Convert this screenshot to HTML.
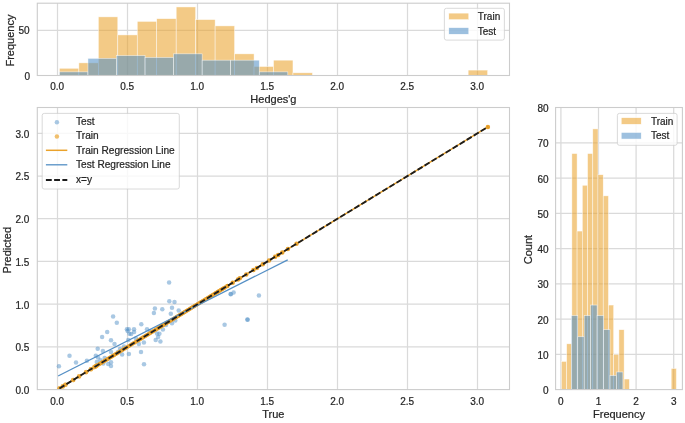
<!DOCTYPE html>
<html lang="en"><head><meta charset="utf-8"><title>Predicted vs True</title>
<style>html,body{margin:0;padding:0;background:#fff}svg{display:block}</style></head>
<body>
<svg width="685" height="423" viewBox="0 0 685 423" font-family="'Liberation Sans', sans-serif" fill="#262626" stroke="#262626" stroke-width="0.22">
<rect width="685" height="423" fill="#fff" stroke="none"/>
<rect x="37.3" y="3.2" width="472.2" height="72.3" fill="#fff" stroke="none"/>
<path d="M57.5 3.2V75.5M127.5 3.2V75.5M197.5 3.2V75.5M267.5 3.2V75.5M337.5 3.2V75.5M407.5 3.2V75.5M477.5 3.2V75.5M37.3 30.4H509.5" stroke="#dadada" stroke-width="1.25" fill="none"/>
<g>
<rect x="59.4" y="68.28" width="19.46" height="7.22" fill="#eaa22b" fill-opacity="0.57" stroke="#fff" stroke-opacity="0.75" stroke-width="0.6"/>
<rect x="78.86" y="62.87" width="19.47" height="12.63" fill="#eaa22b" fill-opacity="0.57" stroke="#fff" stroke-opacity="0.75" stroke-width="0.6"/>
<rect x="98.33" y="16.87" width="19.46" height="58.63" fill="#eaa22b" fill-opacity="0.57" stroke="#fff" stroke-opacity="0.75" stroke-width="0.6"/>
<rect x="117.79" y="34.91" width="19.47" height="40.59" fill="#eaa22b" fill-opacity="0.57" stroke="#fff" stroke-opacity="0.75" stroke-width="0.6"/>
<rect x="137.26" y="21.38" width="19.47" height="54.12" fill="#eaa22b" fill-opacity="0.57" stroke="#fff" stroke-opacity="0.75" stroke-width="0.6"/>
<rect x="156.72" y="18.67" width="19.47" height="56.83" fill="#eaa22b" fill-opacity="0.57" stroke="#fff" stroke-opacity="0.75" stroke-width="0.6"/>
<rect x="176.19" y="6.95" width="19.47" height="68.55" fill="#eaa22b" fill-opacity="0.57" stroke="#fff" stroke-opacity="0.75" stroke-width="0.6"/>
<rect x="195.66" y="19.58" width="19.47" height="55.92" fill="#eaa22b" fill-opacity="0.57" stroke="#fff" stroke-opacity="0.75" stroke-width="0.6"/>
<rect x="215.12" y="25.89" width="19.47" height="49.61" fill="#eaa22b" fill-opacity="0.57" stroke="#fff" stroke-opacity="0.75" stroke-width="0.6"/>
<rect x="234.59" y="53.85" width="19.47" height="21.65" fill="#eaa22b" fill-opacity="0.57" stroke="#fff" stroke-opacity="0.75" stroke-width="0.6"/>
<rect x="254.05" y="66.48" width="19.46" height="9.02" fill="#eaa22b" fill-opacity="0.57" stroke="#fff" stroke-opacity="0.75" stroke-width="0.6"/>
<rect x="273.51" y="60.17" width="19.46" height="15.33" fill="#eaa22b" fill-opacity="0.57" stroke="#fff" stroke-opacity="0.75" stroke-width="0.6"/>
<rect x="292.98" y="72.79" width="19.47" height="2.71" fill="#eaa22b" fill-opacity="0.57" stroke="#fff" stroke-opacity="0.75" stroke-width="0.6"/>
<rect x="468.16" y="70.09" width="19.47" height="5.41" fill="#eaa22b" fill-opacity="0.57" stroke="#fff" stroke-opacity="0.75" stroke-width="0.6"/>
<rect x="59.4" y="71.89" width="28.55" height="3.61" fill="#5391c7" fill-opacity="0.57" stroke="#fff" stroke-opacity="0.75" stroke-width="0.6"/>
<rect x="87.95" y="58.36" width="28.55" height="17.14" fill="#5391c7" fill-opacity="0.57" stroke="#fff" stroke-opacity="0.75" stroke-width="0.6"/>
<rect x="116.5" y="55.66" width="28.55" height="19.84" fill="#5391c7" fill-opacity="0.57" stroke="#fff" stroke-opacity="0.75" stroke-width="0.6"/>
<rect x="145.05" y="57.46" width="28.55" height="18.04" fill="#5391c7" fill-opacity="0.57" stroke="#fff" stroke-opacity="0.75" stroke-width="0.6"/>
<rect x="173.6" y="53.85" width="28.55" height="21.65" fill="#5391c7" fill-opacity="0.57" stroke="#fff" stroke-opacity="0.75" stroke-width="0.6"/>
<rect x="202.15" y="60.17" width="28.55" height="15.33" fill="#5391c7" fill-opacity="0.57" stroke="#fff" stroke-opacity="0.75" stroke-width="0.6"/>
<rect x="230.7" y="60.17" width="28.55" height="15.33" fill="#5391c7" fill-opacity="0.57" stroke="#fff" stroke-opacity="0.75" stroke-width="0.6"/>
<rect x="259.25" y="71.89" width="28.55" height="3.61" fill="#5391c7" fill-opacity="0.57" stroke="#fff" stroke-opacity="0.75" stroke-width="0.6"/>
</g>
<rect x="37.3" y="3.2" width="472.2" height="72.3" fill="none" stroke="#cccccc" stroke-width="1.1"/>
<text x="57.2" y="90.35" font-size="10" text-anchor="middle">0.0</text>
<text x="127.2" y="90.35" font-size="10" text-anchor="middle">0.5</text>
<text x="197.2" y="90.35" font-size="10" text-anchor="middle">1.0</text>
<text x="267.2" y="90.35" font-size="10" text-anchor="middle">1.5</text>
<text x="337.2" y="90.35" font-size="10" text-anchor="middle">2.0</text>
<text x="407.2" y="90.35" font-size="10" text-anchor="middle">2.5</text>
<text x="477.2" y="90.35" font-size="10" text-anchor="middle">3.0</text>
<text x="30" y="79.6" font-size="10" text-anchor="end">0</text>
<text x="29.6" y="34" font-size="10" text-anchor="end">50</text>
<text x="14" y="40.6" font-size="11" text-anchor="middle" transform="rotate(-90 14 40.6)">Frequency</text>
<text x="273.4" y="103.3" font-size="11" text-anchor="middle">Hedges'g</text>
<rect x="444.4" y="8.3" width="60" height="31.8" rx="2" ry="2" fill="#fff" fill-opacity="0.8" stroke="#cccccc" stroke-opacity="0.8" stroke-width="0.9"/>
<rect x="448.8" y="13.1" width="20" height="6.6" fill="#eaa22b" fill-opacity="0.57" stroke="#fff" stroke-width="0.5"/>
<text x="477.8" y="20" font-size="10" text-anchor="start">Train</text>
<rect x="448.8" y="27.65" width="20" height="6.6" fill="#5391c7" fill-opacity="0.57" stroke="#fff" stroke-width="0.5"/>
<text x="477.8" y="34.55" font-size="10" text-anchor="start">Test</text>
<rect x="37.3" y="107.5" width="472.2" height="282.1" fill="#fff" stroke="none"/>
<path d="M57.5 107.5V389.6M127.5 107.5V389.6M197.5 107.5V389.6M267.5 107.5V389.6M337.5 107.5V389.6M407.5 107.5V389.6M477.5 107.5V389.6M37.3 346.88H509.5M37.3 304.17H509.5M37.3 261.46H509.5M37.3 218.74H509.5M37.3 176.03H509.5M37.3 133.31H509.5" stroke="#dadada" stroke-width="1.25" fill="none"/>
<clipPath id="mainclip"><rect x="37.3" y="107.5" width="472.2" height="282.1"/></clipPath>
<g clip-path="url(#mainclip)">
<g fill="#5391c7" fill-opacity="0.5" stroke="none">
<circle cx="58.9" cy="366.2" r="2.25"/>
<circle cx="69.5" cy="355.7" r="2.25"/>
<circle cx="76" cy="362.5" r="2.25"/>
<circle cx="86.9" cy="360.8" r="2.25"/>
<circle cx="97.7" cy="348.8" r="2.25"/>
<circle cx="95.8" cy="355.7" r="2.25"/>
<circle cx="98" cy="357.6" r="2.25"/>
<circle cx="96.8" cy="361.9" r="2.25"/>
<circle cx="102.9" cy="351.1" r="2.25"/>
<circle cx="104.7" cy="358" r="2.25"/>
<circle cx="103.2" cy="363.6" r="2.25"/>
<circle cx="111" cy="351.9" r="2.25"/>
<circle cx="111" cy="340.2" r="2.25"/>
<circle cx="114.5" cy="344" r="2.25"/>
<circle cx="108.2" cy="364" r="2.25"/>
<circle cx="111" cy="366" r="2.25"/>
<circle cx="111" cy="362.2" r="2.25"/>
<circle cx="122.1" cy="354.5" r="2.25"/>
<circle cx="128.9" cy="354" r="2.25"/>
<circle cx="128.3" cy="340" r="2.25"/>
<circle cx="113.1" cy="316.6" r="2.25"/>
<circle cx="116.8" cy="322.7" r="2.25"/>
<circle cx="107.2" cy="331.9" r="2.25"/>
<circle cx="102.1" cy="337" r="2.25"/>
<circle cx="126.9" cy="329.3" r="2.25"/>
<circle cx="127.6" cy="330.9" r="2.25"/>
<circle cx="128.8" cy="329.3" r="2.25"/>
<circle cx="129.4" cy="333.7" r="2.25"/>
<circle cx="141" cy="352" r="2.25"/>
<circle cx="144" cy="364.2" r="2.25"/>
<circle cx="138.9" cy="344" r="2.25"/>
<circle cx="143.9" cy="342.4" r="2.25"/>
<circle cx="155.7" cy="340" r="2.25"/>
<circle cx="160.4" cy="341.6" r="2.25"/>
<circle cx="158.1" cy="337" r="2.25"/>
<circle cx="159.4" cy="333.8" r="2.25"/>
<circle cx="157" cy="333.5" r="2.25"/>
<circle cx="162.9" cy="329.5" r="2.25"/>
<circle cx="131.2" cy="334" r="2.25"/>
<circle cx="134.1" cy="331.9" r="2.25"/>
<circle cx="134" cy="329.3" r="2.25"/>
<circle cx="169.1" cy="282.4" r="2.25"/>
<circle cx="169.3" cy="301.2" r="2.25"/>
<circle cx="174.5" cy="301.9" r="2.25"/>
<circle cx="154.9" cy="308.4" r="2.25"/>
<circle cx="162.3" cy="309.2" r="2.25"/>
<circle cx="172" cy="307.7" r="2.25"/>
<circle cx="178.7" cy="310.4" r="2.25"/>
<circle cx="153.9" cy="313" r="2.25"/>
<circle cx="170.8" cy="313.7" r="2.25"/>
<circle cx="141.3" cy="324.3" r="2.25"/>
<circle cx="147" cy="329.2" r="2.25"/>
<circle cx="172" cy="323.2" r="2.25"/>
<circle cx="175.3" cy="320.5" r="2.25"/>
<circle cx="230.8" cy="294.2" r="2.25"/>
<circle cx="230.6" cy="294" r="2.25"/>
<circle cx="233.6" cy="292.5" r="2.25"/>
<circle cx="258.9" cy="295.4" r="2.25"/>
<circle cx="247.4" cy="319.5" r="2.25"/>
<circle cx="247.6" cy="319.7" r="2.25"/>
<circle cx="224.6" cy="324.7" r="2.25"/>
<circle cx="124" cy="346.5" r="2.25"/>
<circle cx="120" cy="349" r="2.25"/>
<circle cx="136" cy="338.5" r="2.25"/>
<circle cx="150" cy="331" r="2.25"/>
<circle cx="166" cy="325" r="2.25"/>
<circle cx="118" cy="352" r="2.25"/>
<circle cx="100.5" cy="360.2" r="2.25"/>
</g>
<g fill="#eaa22b" stroke="none">
<circle cx="59.4" cy="388.44" r="2.25" fill-opacity="0.68"/>
<circle cx="59.7" cy="388.26" r="2.25" fill-opacity="0.68"/>
<circle cx="62.7" cy="386.43" r="2.25" fill-opacity="0.68"/>
<circle cx="62.9" cy="386.3" r="2.25" fill-opacity="0.68"/>
<circle cx="65.3" cy="384.84" r="2.25" fill-opacity="0.68"/>
<circle cx="65.5" cy="384.72" r="2.25" fill-opacity="0.68"/>
<circle cx="73.1" cy="380.08" r="2.25" fill-opacity="0.68"/>
<circle cx="73.3" cy="379.96" r="2.25" fill-opacity="0.68"/>
<circle cx="79" cy="376.48" r="2.25" fill-opacity="0.68"/>
<circle cx="79.2" cy="376.36" r="2.25" fill-opacity="0.68"/>
<circle cx="86" cy="372.21" r="2.25" fill-opacity="0.68"/>
<circle cx="86.2" cy="372.09" r="2.25" fill-opacity="0.68"/>
<circle cx="90.8" cy="369.28" r="2.25" fill-opacity="0.68"/>
<circle cx="91" cy="369.16" r="2.25" fill-opacity="0.68"/>
<circle cx="94" cy="367.33" r="2.25" fill-opacity="0.68"/>
<circle cx="95" cy="366.72" r="2.25" fill-opacity="0.68"/>
<circle cx="95.5" cy="366.41" r="2.25" fill-opacity="0.68"/>
<circle cx="96" cy="366.11" r="2.25" fill-opacity="0.68"/>
<circle cx="96.5" cy="365.8" r="2.25" fill-opacity="0.68"/>
<circle cx="97" cy="365.5" r="1.9" fill-opacity="0.45"/>
<circle cx="97.5" cy="365.19" r="1.9" fill-opacity="0.45"/>
<circle cx="98" cy="364.89" r="1.9" fill-opacity="0.45"/>
<circle cx="98.48" cy="364.59" r="1.9" fill-opacity="0.45"/>
<circle cx="98.78" cy="364.41" r="1.9" fill-opacity="0.45"/>
<circle cx="99.08" cy="364.23" r="1.9" fill-opacity="0.45"/>
<circle cx="99.38" cy="364.04" r="1.9" fill-opacity="0.45"/>
<circle cx="99.68" cy="363.86" r="1.9" fill-opacity="0.45"/>
<circle cx="99.98" cy="363.68" r="1.9" fill-opacity="0.45"/>
<circle cx="100.28" cy="363.5" r="1.9" fill-opacity="0.45"/>
<circle cx="100.58" cy="363.31" r="1.9" fill-opacity="0.45"/>
<circle cx="100.88" cy="363.13" r="1.9" fill-opacity="0.45"/>
<circle cx="101.17" cy="362.95" r="1.9" fill-opacity="0.45"/>
<circle cx="101.47" cy="362.77" r="1.9" fill-opacity="0.45"/>
<circle cx="101.77" cy="362.59" r="1.9" fill-opacity="0.45"/>
<circle cx="102.07" cy="362.4" r="1.9" fill-opacity="0.45"/>
<circle cx="102.37" cy="362.22" r="1.9" fill-opacity="0.45"/>
<circle cx="102.67" cy="362.04" r="1.9" fill-opacity="0.45"/>
<circle cx="102.97" cy="361.85" r="1.9" fill-opacity="0.45"/>
<circle cx="103.27" cy="361.67" r="1.9" fill-opacity="0.45"/>
<circle cx="103.57" cy="361.49" r="1.9" fill-opacity="0.45"/>
<circle cx="103.87" cy="361.3" r="1.9" fill-opacity="0.45"/>
<circle cx="104.17" cy="361.12" r="1.9" fill-opacity="0.45"/>
<circle cx="104.47" cy="360.94" r="1.9" fill-opacity="0.45"/>
<circle cx="104.77" cy="360.76" r="1.9" fill-opacity="0.45"/>
<circle cx="105.07" cy="360.57" r="1.9" fill-opacity="0.45"/>
<circle cx="105.37" cy="360.39" r="1.9" fill-opacity="0.45"/>
<circle cx="105.67" cy="360.21" r="1.9" fill-opacity="0.45"/>
<circle cx="105.97" cy="360.02" r="1.9" fill-opacity="0.45"/>
<circle cx="106.27" cy="359.84" r="1.9" fill-opacity="0.45"/>
<circle cx="106.57" cy="359.66" r="1.9" fill-opacity="0.45"/>
<circle cx="106.86" cy="359.48" r="1.9" fill-opacity="0.45"/>
<circle cx="107.16" cy="359.3" r="1.9" fill-opacity="0.45"/>
<circle cx="107.46" cy="359.11" r="1.9" fill-opacity="0.45"/>
<circle cx="107.76" cy="358.93" r="1.9" fill-opacity="0.45"/>
<circle cx="108.06" cy="358.75" r="1.9" fill-opacity="0.45"/>
<circle cx="108.36" cy="358.56" r="1.9" fill-opacity="0.45"/>
<circle cx="108.66" cy="358.38" r="1.9" fill-opacity="0.45"/>
<circle cx="108.96" cy="358.2" r="1.9" fill-opacity="0.45"/>
<circle cx="109.26" cy="358.02" r="1.9" fill-opacity="0.45"/>
<circle cx="109.56" cy="357.83" r="1.9" fill-opacity="0.45"/>
<circle cx="109.86" cy="357.65" r="1.9" fill-opacity="0.45"/>
<circle cx="110.16" cy="357.47" r="1.9" fill-opacity="0.45"/>
<circle cx="110.46" cy="357.28" r="1.9" fill-opacity="0.45"/>
<circle cx="110.76" cy="357.1" r="1.9" fill-opacity="0.45"/>
<circle cx="111.06" cy="356.92" r="1.9" fill-opacity="0.45"/>
<circle cx="111.36" cy="356.73" r="1.9" fill-opacity="0.45"/>
<circle cx="111.66" cy="356.55" r="1.9" fill-opacity="0.45"/>
<circle cx="111.96" cy="356.37" r="1.9" fill-opacity="0.45"/>
<circle cx="112.25" cy="356.19" r="1.9" fill-opacity="0.45"/>
<circle cx="112.55" cy="356.01" r="1.9" fill-opacity="0.45"/>
<circle cx="112.85" cy="355.82" r="1.9" fill-opacity="0.45"/>
<circle cx="113.15" cy="355.64" r="1.9" fill-opacity="0.45"/>
<circle cx="113.45" cy="355.46" r="1.9" fill-opacity="0.45"/>
<circle cx="113.75" cy="355.28" r="1.9" fill-opacity="0.45"/>
<circle cx="114.05" cy="355.09" r="1.9" fill-opacity="0.45"/>
<circle cx="114.35" cy="354.91" r="1.9" fill-opacity="0.45"/>
<circle cx="114.65" cy="354.73" r="1.9" fill-opacity="0.45"/>
<circle cx="114.95" cy="354.54" r="1.9" fill-opacity="0.45"/>
<circle cx="115.25" cy="354.36" r="1.9" fill-opacity="0.45"/>
<circle cx="115.55" cy="354.18" r="1.9" fill-opacity="0.45"/>
<circle cx="115.85" cy="353.99" r="1.9" fill-opacity="0.45"/>
<circle cx="116.15" cy="353.81" r="1.9" fill-opacity="0.45"/>
<circle cx="116.45" cy="353.63" r="1.9" fill-opacity="0.45"/>
<circle cx="116.75" cy="353.44" r="1.9" fill-opacity="0.45"/>
<circle cx="117.05" cy="353.26" r="1.9" fill-opacity="0.45"/>
<circle cx="117.35" cy="353.08" r="1.9" fill-opacity="0.45"/>
<circle cx="117.65" cy="352.9" r="1.9" fill-opacity="0.45"/>
<circle cx="118.01" cy="352.68" r="1.9" fill-opacity="0.45"/>
<circle cx="118.44" cy="352.41" r="1.9" fill-opacity="0.45"/>
<circle cx="118.88" cy="352.15" r="1.9" fill-opacity="0.45"/>
<circle cx="119.31" cy="351.88" r="1.9" fill-opacity="0.45"/>
<circle cx="119.74" cy="351.62" r="1.9" fill-opacity="0.45"/>
<circle cx="120.17" cy="351.36" r="1.9" fill-opacity="0.45"/>
<circle cx="120.61" cy="351.09" r="1.9" fill-opacity="0.45"/>
<circle cx="121.04" cy="350.83" r="1.9" fill-opacity="0.45"/>
<circle cx="121.47" cy="350.56" r="1.9" fill-opacity="0.45"/>
<circle cx="121.9" cy="350.3" r="1.9" fill-opacity="0.45"/>
<circle cx="122.34" cy="350.03" r="1.9" fill-opacity="0.45"/>
<circle cx="122.77" cy="349.77" r="1.9" fill-opacity="0.45"/>
<circle cx="123.2" cy="349.51" r="1.9" fill-opacity="0.45"/>
<circle cx="123.63" cy="349.25" r="1.9" fill-opacity="0.45"/>
<circle cx="124.07" cy="348.98" r="1.9" fill-opacity="0.45"/>
<circle cx="124.5" cy="348.72" r="1.9" fill-opacity="0.45"/>
<circle cx="124.93" cy="348.45" r="1.9" fill-opacity="0.45"/>
<circle cx="125.36" cy="348.19" r="1.9" fill-opacity="0.45"/>
<circle cx="125.8" cy="347.92" r="1.9" fill-opacity="0.45"/>
<circle cx="126.23" cy="347.66" r="1.9" fill-opacity="0.45"/>
<circle cx="126.66" cy="347.4" r="1.9" fill-opacity="0.45"/>
<circle cx="127.09" cy="347.14" r="1.9" fill-opacity="0.45"/>
<circle cx="127.53" cy="346.87" r="1.9" fill-opacity="0.45"/>
<circle cx="127.96" cy="346.6" r="1.9" fill-opacity="0.45"/>
<circle cx="128.39" cy="346.34" r="1.9" fill-opacity="0.45"/>
<circle cx="128.83" cy="346.07" r="1.9" fill-opacity="0.45"/>
<circle cx="129.26" cy="345.81" r="1.9" fill-opacity="0.45"/>
<circle cx="129.69" cy="345.55" r="1.9" fill-opacity="0.45"/>
<circle cx="130.12" cy="345.29" r="1.9" fill-opacity="0.45"/>
<circle cx="130.56" cy="345.02" r="1.9" fill-opacity="0.45"/>
<circle cx="130.99" cy="344.76" r="1.9" fill-opacity="0.45"/>
<circle cx="131.42" cy="344.49" r="1.9" fill-opacity="0.45"/>
<circle cx="131.85" cy="344.23" r="1.9" fill-opacity="0.45"/>
<circle cx="132.29" cy="343.96" r="1.9" fill-opacity="0.45"/>
<circle cx="132.72" cy="343.7" r="1.9" fill-opacity="0.45"/>
<circle cx="133.15" cy="343.44" r="1.9" fill-opacity="0.45"/>
<circle cx="133.58" cy="343.17" r="1.9" fill-opacity="0.45"/>
<circle cx="134.02" cy="342.91" r="1.9" fill-opacity="0.45"/>
<circle cx="134.45" cy="342.64" r="1.9" fill-opacity="0.45"/>
<circle cx="134.88" cy="342.38" r="1.9" fill-opacity="0.45"/>
<circle cx="135.31" cy="342.12" r="1.9" fill-opacity="0.45"/>
<circle cx="135.75" cy="341.85" r="1.9" fill-opacity="0.45"/>
<circle cx="136.18" cy="341.59" r="1.9" fill-opacity="0.45"/>
<circle cx="136.61" cy="341.33" r="1.9" fill-opacity="0.45"/>
<circle cx="137.04" cy="341.06" r="1.9" fill-opacity="0.45"/>
<circle cx="137.42" cy="340.83" r="1.9" fill-opacity="0.45"/>
<circle cx="137.75" cy="340.63" r="1.9" fill-opacity="0.45"/>
<circle cx="138.07" cy="340.44" r="1.9" fill-opacity="0.45"/>
<circle cx="138.4" cy="340.23" r="1.9" fill-opacity="0.45"/>
<circle cx="138.72" cy="340.04" r="1.9" fill-opacity="0.45"/>
<circle cx="139.04" cy="339.84" r="1.9" fill-opacity="0.45"/>
<circle cx="139.37" cy="339.64" r="1.9" fill-opacity="0.45"/>
<circle cx="139.69" cy="339.45" r="1.9" fill-opacity="0.45"/>
<circle cx="140.02" cy="339.25" r="1.9" fill-opacity="0.45"/>
<circle cx="140.34" cy="339.05" r="1.9" fill-opacity="0.45"/>
<circle cx="140.67" cy="338.85" r="1.9" fill-opacity="0.45"/>
<circle cx="140.99" cy="338.65" r="1.9" fill-opacity="0.45"/>
<circle cx="141.32" cy="338.45" r="1.9" fill-opacity="0.45"/>
<circle cx="141.64" cy="338.26" r="1.9" fill-opacity="0.45"/>
<circle cx="141.96" cy="338.06" r="1.9" fill-opacity="0.45"/>
<circle cx="142.29" cy="337.86" r="1.9" fill-opacity="0.45"/>
<circle cx="142.61" cy="337.66" r="1.9" fill-opacity="0.45"/>
<circle cx="142.94" cy="337.46" r="1.9" fill-opacity="0.45"/>
<circle cx="143.26" cy="337.27" r="1.9" fill-opacity="0.45"/>
<circle cx="143.59" cy="337.07" r="1.9" fill-opacity="0.45"/>
<circle cx="143.91" cy="336.87" r="1.9" fill-opacity="0.45"/>
<circle cx="144.23" cy="336.68" r="1.9" fill-opacity="0.45"/>
<circle cx="144.56" cy="336.47" r="1.9" fill-opacity="0.45"/>
<circle cx="144.88" cy="336.28" r="1.9" fill-opacity="0.45"/>
<circle cx="145.21" cy="336.08" r="1.9" fill-opacity="0.45"/>
<circle cx="145.53" cy="335.88" r="1.9" fill-opacity="0.45"/>
<circle cx="145.86" cy="335.68" r="1.9" fill-opacity="0.45"/>
<circle cx="146.18" cy="335.49" r="1.9" fill-opacity="0.45"/>
<circle cx="146.51" cy="335.28" r="1.9" fill-opacity="0.45"/>
<circle cx="146.83" cy="335.09" r="1.9" fill-opacity="0.45"/>
<circle cx="147.15" cy="334.89" r="1.9" fill-opacity="0.45"/>
<circle cx="147.48" cy="334.69" r="1.9" fill-opacity="0.45"/>
<circle cx="147.8" cy="334.5" r="1.9" fill-opacity="0.45"/>
<circle cx="148.13" cy="334.3" r="1.9" fill-opacity="0.45"/>
<circle cx="148.45" cy="334.1" r="1.9" fill-opacity="0.45"/>
<circle cx="148.78" cy="333.9" r="1.9" fill-opacity="0.45"/>
<circle cx="149.1" cy="333.7" r="1.9" fill-opacity="0.45"/>
<circle cx="149.43" cy="333.5" r="1.9" fill-opacity="0.45"/>
<circle cx="149.75" cy="333.31" r="1.9" fill-opacity="0.45"/>
<circle cx="150.07" cy="333.11" r="1.9" fill-opacity="0.45"/>
<circle cx="150.4" cy="332.91" r="1.9" fill-opacity="0.45"/>
<circle cx="150.72" cy="332.72" r="1.9" fill-opacity="0.45"/>
<circle cx="151.05" cy="332.51" r="1.9" fill-opacity="0.45"/>
<circle cx="151.37" cy="332.32" r="1.9" fill-opacity="0.45"/>
<circle cx="151.7" cy="332.12" r="1.9" fill-opacity="0.45"/>
<circle cx="152.02" cy="331.92" r="1.9" fill-opacity="0.45"/>
<circle cx="152.35" cy="331.72" r="1.9" fill-opacity="0.45"/>
<circle cx="152.67" cy="331.53" r="1.9" fill-opacity="0.45"/>
<circle cx="152.99" cy="331.33" r="1.9" fill-opacity="0.45"/>
<circle cx="153.32" cy="331.13" r="1.9" fill-opacity="0.45"/>
<circle cx="153.64" cy="330.93" r="1.9" fill-opacity="0.45"/>
<circle cx="153.97" cy="330.73" r="1.9" fill-opacity="0.45"/>
<circle cx="154.29" cy="330.54" r="1.9" fill-opacity="0.45"/>
<circle cx="154.62" cy="330.34" r="1.9" fill-opacity="0.45"/>
<circle cx="154.94" cy="330.14" r="1.9" fill-opacity="0.45"/>
<circle cx="155.27" cy="329.94" r="1.9" fill-opacity="0.45"/>
<circle cx="155.59" cy="329.74" r="1.9" fill-opacity="0.45"/>
<circle cx="155.91" cy="329.55" r="1.9" fill-opacity="0.45"/>
<circle cx="156.24" cy="329.35" r="1.9" fill-opacity="0.45"/>
<circle cx="156.56" cy="329.15" r="1.9" fill-opacity="0.45"/>
<circle cx="156.88" cy="328.96" r="1.9" fill-opacity="0.45"/>
<circle cx="157.19" cy="328.77" r="1.9" fill-opacity="0.45"/>
<circle cx="157.5" cy="328.58" r="1.9" fill-opacity="0.45"/>
<circle cx="157.81" cy="328.39" r="1.9" fill-opacity="0.45"/>
<circle cx="158.12" cy="328.2" r="1.9" fill-opacity="0.45"/>
<circle cx="158.42" cy="328.02" r="1.9" fill-opacity="0.45"/>
<circle cx="158.73" cy="327.83" r="1.9" fill-opacity="0.45"/>
<circle cx="159.04" cy="327.64" r="1.9" fill-opacity="0.45"/>
<circle cx="159.35" cy="327.45" r="1.9" fill-opacity="0.45"/>
<circle cx="159.66" cy="327.26" r="1.9" fill-opacity="0.45"/>
<circle cx="159.97" cy="327.07" r="1.9" fill-opacity="0.45"/>
<circle cx="160.28" cy="326.88" r="1.9" fill-opacity="0.45"/>
<circle cx="160.59" cy="326.69" r="1.9" fill-opacity="0.45"/>
<circle cx="160.9" cy="326.5" r="1.9" fill-opacity="0.45"/>
<circle cx="161.21" cy="326.31" r="1.9" fill-opacity="0.45"/>
<circle cx="161.51" cy="326.13" r="1.9" fill-opacity="0.45"/>
<circle cx="161.82" cy="325.94" r="1.9" fill-opacity="0.45"/>
<circle cx="162.13" cy="325.75" r="1.9" fill-opacity="0.45"/>
<circle cx="162.44" cy="325.56" r="1.9" fill-opacity="0.45"/>
<circle cx="162.75" cy="325.37" r="1.9" fill-opacity="0.45"/>
<circle cx="163.06" cy="325.19" r="1.9" fill-opacity="0.45"/>
<circle cx="163.37" cy="325" r="1.9" fill-opacity="0.45"/>
<circle cx="163.68" cy="324.81" r="1.9" fill-opacity="0.45"/>
<circle cx="163.99" cy="324.62" r="1.9" fill-opacity="0.45"/>
<circle cx="164.29" cy="324.44" r="1.9" fill-opacity="0.45"/>
<circle cx="164.6" cy="324.25" r="1.9" fill-opacity="0.45"/>
<circle cx="164.91" cy="324.06" r="1.9" fill-opacity="0.45"/>
<circle cx="165.22" cy="323.87" r="1.9" fill-opacity="0.45"/>
<circle cx="165.53" cy="323.68" r="1.9" fill-opacity="0.45"/>
<circle cx="165.84" cy="323.49" r="1.9" fill-opacity="0.45"/>
<circle cx="166.15" cy="323.3" r="1.9" fill-opacity="0.45"/>
<circle cx="166.46" cy="323.11" r="1.9" fill-opacity="0.45"/>
<circle cx="166.77" cy="322.92" r="1.9" fill-opacity="0.45"/>
<circle cx="167.08" cy="322.73" r="1.9" fill-opacity="0.45"/>
<circle cx="167.38" cy="322.55" r="1.9" fill-opacity="0.45"/>
<circle cx="167.69" cy="322.36" r="1.9" fill-opacity="0.45"/>
<circle cx="168" cy="322.17" r="1.9" fill-opacity="0.45"/>
<circle cx="168.31" cy="321.98" r="1.9" fill-opacity="0.45"/>
<circle cx="168.62" cy="321.79" r="1.9" fill-opacity="0.45"/>
<circle cx="168.93" cy="321.6" r="1.9" fill-opacity="0.45"/>
<circle cx="169.24" cy="321.41" r="1.9" fill-opacity="0.45"/>
<circle cx="169.55" cy="321.23" r="1.9" fill-opacity="0.45"/>
<circle cx="169.86" cy="321.04" r="1.9" fill-opacity="0.45"/>
<circle cx="170.17" cy="320.85" r="1.9" fill-opacity="0.45"/>
<circle cx="170.47" cy="320.66" r="1.9" fill-opacity="0.45"/>
<circle cx="170.78" cy="320.47" r="1.9" fill-opacity="0.45"/>
<circle cx="171.09" cy="320.29" r="1.9" fill-opacity="0.45"/>
<circle cx="171.4" cy="320.1" r="1.9" fill-opacity="0.45"/>
<circle cx="171.71" cy="319.91" r="1.9" fill-opacity="0.45"/>
<circle cx="172.02" cy="319.72" r="1.9" fill-opacity="0.45"/>
<circle cx="172.33" cy="319.53" r="1.9" fill-opacity="0.45"/>
<circle cx="172.64" cy="319.34" r="1.9" fill-opacity="0.45"/>
<circle cx="172.95" cy="319.15" r="1.9" fill-opacity="0.45"/>
<circle cx="173.25" cy="318.97" r="1.9" fill-opacity="0.45"/>
<circle cx="173.56" cy="318.78" r="1.9" fill-opacity="0.45"/>
<circle cx="173.87" cy="318.59" r="1.9" fill-opacity="0.45"/>
<circle cx="174.18" cy="318.4" r="1.9" fill-opacity="0.45"/>
<circle cx="174.49" cy="318.21" r="1.9" fill-opacity="0.45"/>
<circle cx="174.8" cy="318.02" r="1.9" fill-opacity="0.45"/>
<circle cx="175.11" cy="317.83" r="1.9" fill-opacity="0.45"/>
<circle cx="175.42" cy="317.64" r="1.9" fill-opacity="0.45"/>
<circle cx="175.73" cy="317.45" r="1.9" fill-opacity="0.45"/>
<circle cx="176.04" cy="317.27" r="1.9" fill-opacity="0.45"/>
<circle cx="176.32" cy="317.09" r="1.9" fill-opacity="0.45"/>
<circle cx="176.57" cy="316.94" r="1.9" fill-opacity="0.45"/>
<circle cx="176.83" cy="316.78" r="1.9" fill-opacity="0.45"/>
<circle cx="177.09" cy="316.62" r="1.9" fill-opacity="0.45"/>
<circle cx="177.34" cy="316.47" r="1.9" fill-opacity="0.45"/>
<circle cx="177.6" cy="316.31" r="1.9" fill-opacity="0.45"/>
<circle cx="177.85" cy="316.16" r="1.9" fill-opacity="0.45"/>
<circle cx="178.11" cy="316" r="1.9" fill-opacity="0.45"/>
<circle cx="178.37" cy="315.84" r="1.9" fill-opacity="0.45"/>
<circle cx="178.62" cy="315.69" r="1.9" fill-opacity="0.45"/>
<circle cx="178.88" cy="315.53" r="1.9" fill-opacity="0.45"/>
<circle cx="179.14" cy="315.37" r="1.9" fill-opacity="0.45"/>
<circle cx="179.39" cy="315.22" r="1.9" fill-opacity="0.45"/>
<circle cx="179.65" cy="315.06" r="1.9" fill-opacity="0.45"/>
<circle cx="179.9" cy="314.91" r="1.9" fill-opacity="0.45"/>
<circle cx="180.16" cy="314.75" r="1.9" fill-opacity="0.45"/>
<circle cx="180.42" cy="314.59" r="1.9" fill-opacity="0.45"/>
<circle cx="180.67" cy="314.44" r="1.9" fill-opacity="0.45"/>
<circle cx="180.93" cy="314.28" r="1.9" fill-opacity="0.45"/>
<circle cx="181.18" cy="314.13" r="1.9" fill-opacity="0.45"/>
<circle cx="181.44" cy="313.97" r="1.9" fill-opacity="0.45"/>
<circle cx="181.7" cy="313.81" r="1.9" fill-opacity="0.45"/>
<circle cx="181.95" cy="313.66" r="1.9" fill-opacity="0.45"/>
<circle cx="182.21" cy="313.5" r="1.9" fill-opacity="0.45"/>
<circle cx="182.46" cy="313.35" r="1.9" fill-opacity="0.45"/>
<circle cx="182.72" cy="313.19" r="1.9" fill-opacity="0.45"/>
<circle cx="182.98" cy="313.03" r="1.9" fill-opacity="0.45"/>
<circle cx="183.23" cy="312.88" r="1.9" fill-opacity="0.45"/>
<circle cx="183.49" cy="312.72" r="1.9" fill-opacity="0.45"/>
<circle cx="183.75" cy="312.56" r="1.9" fill-opacity="0.45"/>
<circle cx="184" cy="312.41" r="1.9" fill-opacity="0.45"/>
<circle cx="184.26" cy="312.25" r="1.9" fill-opacity="0.45"/>
<circle cx="184.51" cy="312.1" r="1.9" fill-opacity="0.45"/>
<circle cx="184.77" cy="311.94" r="1.9" fill-opacity="0.45"/>
<circle cx="185.03" cy="311.78" r="1.9" fill-opacity="0.45"/>
<circle cx="185.28" cy="311.63" r="1.9" fill-opacity="0.45"/>
<circle cx="185.54" cy="311.47" r="1.9" fill-opacity="0.45"/>
<circle cx="185.79" cy="311.32" r="1.9" fill-opacity="0.45"/>
<circle cx="186.05" cy="311.16" r="1.9" fill-opacity="0.45"/>
<circle cx="186.31" cy="311" r="1.9" fill-opacity="0.45"/>
<circle cx="186.56" cy="310.85" r="1.9" fill-opacity="0.45"/>
<circle cx="186.82" cy="310.69" r="1.9" fill-opacity="0.45"/>
<circle cx="187.08" cy="310.53" r="1.9" fill-opacity="0.45"/>
<circle cx="187.33" cy="310.38" r="1.9" fill-opacity="0.45"/>
<circle cx="187.59" cy="310.22" r="1.9" fill-opacity="0.45"/>
<circle cx="187.84" cy="310.06" r="1.9" fill-opacity="0.45"/>
<circle cx="188.1" cy="309.91" r="1.9" fill-opacity="0.45"/>
<circle cx="188.36" cy="309.75" r="1.9" fill-opacity="0.45"/>
<circle cx="188.61" cy="309.59" r="1.9" fill-opacity="0.45"/>
<circle cx="188.87" cy="309.44" r="1.9" fill-opacity="0.45"/>
<circle cx="189.12" cy="309.28" r="1.9" fill-opacity="0.45"/>
<circle cx="189.38" cy="309.12" r="1.9" fill-opacity="0.45"/>
<circle cx="189.64" cy="308.97" r="1.9" fill-opacity="0.45"/>
<circle cx="189.89" cy="308.81" r="1.9" fill-opacity="0.45"/>
<circle cx="190.15" cy="308.66" r="1.9" fill-opacity="0.45"/>
<circle cx="190.4" cy="308.5" r="1.9" fill-opacity="0.45"/>
<circle cx="190.66" cy="308.34" r="1.9" fill-opacity="0.45"/>
<circle cx="190.92" cy="308.19" r="1.9" fill-opacity="0.45"/>
<circle cx="191.17" cy="308.03" r="1.9" fill-opacity="0.45"/>
<circle cx="191.43" cy="307.87" r="1.9" fill-opacity="0.45"/>
<circle cx="191.69" cy="307.72" r="1.9" fill-opacity="0.45"/>
<circle cx="191.94" cy="307.56" r="1.9" fill-opacity="0.45"/>
<circle cx="192.2" cy="307.4" r="1.9" fill-opacity="0.45"/>
<circle cx="192.45" cy="307.25" r="1.9" fill-opacity="0.45"/>
<circle cx="192.71" cy="307.09" r="1.9" fill-opacity="0.45"/>
<circle cx="192.97" cy="306.93" r="1.9" fill-opacity="0.45"/>
<circle cx="193.22" cy="306.78" r="1.9" fill-opacity="0.45"/>
<circle cx="193.48" cy="306.62" r="1.9" fill-opacity="0.45"/>
<circle cx="193.73" cy="306.47" r="1.9" fill-opacity="0.45"/>
<circle cx="193.99" cy="306.31" r="1.9" fill-opacity="0.45"/>
<circle cx="194.25" cy="306.15" r="1.9" fill-opacity="0.45"/>
<circle cx="194.5" cy="306" r="1.9" fill-opacity="0.45"/>
<circle cx="194.76" cy="305.84" r="1.9" fill-opacity="0.45"/>
<circle cx="195.01" cy="305.69" r="1.9" fill-opacity="0.45"/>
<circle cx="195.27" cy="305.53" r="1.9" fill-opacity="0.45"/>
<circle cx="195.53" cy="305.37" r="1.9" fill-opacity="0.45"/>
<circle cx="195.81" cy="305.2" r="1.9" fill-opacity="0.45"/>
<circle cx="196.13" cy="305.01" r="1.9" fill-opacity="0.45"/>
<circle cx="196.44" cy="304.82" r="1.9" fill-opacity="0.45"/>
<circle cx="196.75" cy="304.63" r="1.9" fill-opacity="0.45"/>
<circle cx="197.07" cy="304.43" r="1.9" fill-opacity="0.45"/>
<circle cx="197.38" cy="304.24" r="1.9" fill-opacity="0.45"/>
<circle cx="197.7" cy="304.05" r="1.9" fill-opacity="0.45"/>
<circle cx="198.01" cy="303.86" r="1.9" fill-opacity="0.45"/>
<circle cx="198.32" cy="303.67" r="1.9" fill-opacity="0.45"/>
<circle cx="198.64" cy="303.47" r="1.9" fill-opacity="0.45"/>
<circle cx="198.95" cy="303.29" r="1.9" fill-opacity="0.45"/>
<circle cx="199.27" cy="303.09" r="1.9" fill-opacity="0.45"/>
<circle cx="199.58" cy="302.9" r="1.9" fill-opacity="0.45"/>
<circle cx="199.89" cy="302.71" r="1.9" fill-opacity="0.45"/>
<circle cx="200.21" cy="302.52" r="1.9" fill-opacity="0.45"/>
<circle cx="200.52" cy="302.33" r="1.9" fill-opacity="0.45"/>
<circle cx="200.84" cy="302.13" r="1.9" fill-opacity="0.45"/>
<circle cx="201.15" cy="301.94" r="1.9" fill-opacity="0.45"/>
<circle cx="201.46" cy="301.75" r="1.9" fill-opacity="0.45"/>
<circle cx="201.78" cy="301.56" r="1.9" fill-opacity="0.45"/>
<circle cx="202.09" cy="301.37" r="1.9" fill-opacity="0.45"/>
<circle cx="202.4" cy="301.18" r="1.9" fill-opacity="0.45"/>
<circle cx="202.72" cy="300.98" r="1.9" fill-opacity="0.45"/>
<circle cx="203.03" cy="300.8" r="1.9" fill-opacity="0.45"/>
<circle cx="203.35" cy="300.6" r="1.9" fill-opacity="0.45"/>
<circle cx="203.66" cy="300.41" r="1.9" fill-opacity="0.45"/>
<circle cx="203.97" cy="300.22" r="1.9" fill-opacity="0.45"/>
<circle cx="204.29" cy="300.03" r="1.9" fill-opacity="0.45"/>
<circle cx="204.6" cy="299.84" r="1.9" fill-opacity="0.45"/>
<circle cx="204.92" cy="299.64" r="1.9" fill-opacity="0.45"/>
<circle cx="205.23" cy="299.45" r="1.9" fill-opacity="0.45"/>
<circle cx="205.54" cy="299.26" r="1.9" fill-opacity="0.45"/>
<circle cx="205.86" cy="299.07" r="1.9" fill-opacity="0.45"/>
<circle cx="206.17" cy="298.88" r="1.9" fill-opacity="0.45"/>
<circle cx="206.49" cy="298.68" r="1.9" fill-opacity="0.45"/>
<circle cx="206.8" cy="298.5" r="1.9" fill-opacity="0.45"/>
<circle cx="207.11" cy="298.31" r="1.9" fill-opacity="0.45"/>
<circle cx="207.43" cy="298.11" r="1.9" fill-opacity="0.45"/>
<circle cx="207.74" cy="297.92" r="1.9" fill-opacity="0.45"/>
<circle cx="208.06" cy="297.73" r="1.9" fill-opacity="0.45"/>
<circle cx="208.37" cy="297.54" r="1.9" fill-opacity="0.45"/>
<circle cx="208.68" cy="297.35" r="1.9" fill-opacity="0.45"/>
<circle cx="209" cy="297.15" r="1.9" fill-opacity="0.45"/>
<circle cx="209.31" cy="296.96" r="1.9" fill-opacity="0.45"/>
<circle cx="209.63" cy="296.77" r="1.9" fill-opacity="0.45"/>
<circle cx="209.94" cy="296.58" r="1.9" fill-opacity="0.45"/>
<circle cx="210.25" cy="296.39" r="1.9" fill-opacity="0.45"/>
<circle cx="210.57" cy="296.19" r="1.9" fill-opacity="0.45"/>
<circle cx="210.88" cy="296.01" r="1.9" fill-opacity="0.45"/>
<circle cx="211.2" cy="295.81" r="1.9" fill-opacity="0.45"/>
<circle cx="211.51" cy="295.62" r="1.9" fill-opacity="0.45"/>
<circle cx="211.82" cy="295.43" r="1.9" fill-opacity="0.45"/>
<circle cx="212.14" cy="295.24" r="1.9" fill-opacity="0.45"/>
<circle cx="212.45" cy="295.05" r="1.9" fill-opacity="0.45"/>
<circle cx="212.77" cy="294.85" r="1.9" fill-opacity="0.45"/>
<circle cx="213.08" cy="294.66" r="1.9" fill-opacity="0.45"/>
<circle cx="213.39" cy="294.47" r="1.9" fill-opacity="0.45"/>
<circle cx="213.71" cy="294.28" r="1.9" fill-opacity="0.45"/>
<circle cx="214.02" cy="294.09" r="1.9" fill-opacity="0.45"/>
<circle cx="214.34" cy="293.89" r="1.9" fill-opacity="0.45"/>
<circle cx="214.65" cy="293.7" r="1.9" fill-opacity="0.45"/>
<circle cx="214.96" cy="293.52" r="1.9" fill-opacity="0.45"/>
<circle cx="215.24" cy="293.34" r="1.9" fill-opacity="0.45"/>
<circle cx="215.47" cy="293.2" r="1.9" fill-opacity="0.45"/>
<circle cx="215.7" cy="293.06" r="1.9" fill-opacity="0.45"/>
<circle cx="215.93" cy="292.92" r="1.9" fill-opacity="0.45"/>
<circle cx="216.16" cy="292.78" r="1.9" fill-opacity="0.45"/>
<circle cx="216.39" cy="292.64" r="1.9" fill-opacity="0.45"/>
<circle cx="216.62" cy="292.5" r="1.9" fill-opacity="0.45"/>
<circle cx="216.85" cy="292.36" r="1.9" fill-opacity="0.45"/>
<circle cx="217.08" cy="292.22" r="1.9" fill-opacity="0.45"/>
<circle cx="217.31" cy="292.08" r="1.9" fill-opacity="0.45"/>
<circle cx="217.54" cy="291.94" r="1.9" fill-opacity="0.45"/>
<circle cx="217.77" cy="291.8" r="1.9" fill-opacity="0.45"/>
<circle cx="218" cy="291.66" r="1.9" fill-opacity="0.45"/>
<circle cx="218.23" cy="291.52" r="1.9" fill-opacity="0.45"/>
<circle cx="218.46" cy="291.38" r="1.9" fill-opacity="0.45"/>
<circle cx="218.7" cy="291.23" r="1.9" fill-opacity="0.45"/>
<circle cx="218.93" cy="291.09" r="1.9" fill-opacity="0.45"/>
<circle cx="219.16" cy="290.95" r="1.9" fill-opacity="0.45"/>
<circle cx="219.39" cy="290.81" r="1.9" fill-opacity="0.45"/>
<circle cx="219.62" cy="290.67" r="1.9" fill-opacity="0.45"/>
<circle cx="219.85" cy="290.53" r="1.9" fill-opacity="0.45"/>
<circle cx="220.08" cy="290.39" r="1.9" fill-opacity="0.45"/>
<circle cx="220.31" cy="290.25" r="1.9" fill-opacity="0.45"/>
<circle cx="220.54" cy="290.11" r="1.9" fill-opacity="0.45"/>
<circle cx="220.77" cy="289.97" r="1.9" fill-opacity="0.45"/>
<circle cx="221" cy="289.83" r="1.9" fill-opacity="0.45"/>
<circle cx="221.23" cy="289.69" r="1.9" fill-opacity="0.45"/>
<circle cx="221.46" cy="289.55" r="1.9" fill-opacity="0.45"/>
<circle cx="221.69" cy="289.41" r="1.9" fill-opacity="0.45"/>
<circle cx="221.92" cy="289.27" r="1.9" fill-opacity="0.45"/>
<circle cx="222.16" cy="289.12" r="1.9" fill-opacity="0.45"/>
<circle cx="222.39" cy="288.98" r="1.9" fill-opacity="0.45"/>
<circle cx="222.62" cy="288.84" r="1.9" fill-opacity="0.45"/>
<circle cx="222.85" cy="288.7" r="1.9" fill-opacity="0.45"/>
<circle cx="223.08" cy="288.56" r="1.9" fill-opacity="0.45"/>
<circle cx="223.31" cy="288.42" r="1.9" fill-opacity="0.45"/>
<circle cx="223.54" cy="288.28" r="1.9" fill-opacity="0.45"/>
<circle cx="223.77" cy="288.14" r="1.9" fill-opacity="0.45"/>
<circle cx="224" cy="288" r="1.9" fill-opacity="0.45"/>
<circle cx="224.23" cy="287.86" r="1.9" fill-opacity="0.45"/>
<circle cx="224.46" cy="287.72" r="1.9" fill-opacity="0.45"/>
<circle cx="224.69" cy="287.58" r="1.9" fill-opacity="0.45"/>
<circle cx="224.92" cy="287.44" r="1.9" fill-opacity="0.45"/>
<circle cx="225.15" cy="287.3" r="1.9" fill-opacity="0.45"/>
<circle cx="225.38" cy="287.16" r="1.9" fill-opacity="0.45"/>
<circle cx="227.4" cy="285.92" r="2.25" fill-opacity="1.00"/>
<circle cx="232.7" cy="282.69" r="2.25" fill-opacity="1.00"/>
<circle cx="238" cy="279.46" r="2.25" fill-opacity="1.00"/>
<circle cx="239.8" cy="278.36" r="2.25" fill-opacity="1.00"/>
<circle cx="246.3" cy="274.39" r="2.25" fill-opacity="0.99"/>
<circle cx="253.4" cy="270.06" r="2.25" fill-opacity="0.99"/>
<circle cx="256.9" cy="267.92" r="2.25" fill-opacity="0.97"/>
<circle cx="262.8" cy="264.32" r="2.25" fill-opacity="0.99"/>
<circle cx="269" cy="260.54" r="2.25" fill-opacity="0.97"/>
<circle cx="275.2" cy="256.76" r="2.25" fill-opacity="1.00"/>
<circle cx="278.2" cy="254.93" r="2.25" fill-opacity="0.97"/>
<circle cx="282.3" cy="252.42" r="2.25" fill-opacity="1.00"/>
<circle cx="287.9" cy="249.01" r="2.25" fill-opacity="0.99"/>
<circle cx="296.5" cy="243.76" r="2.25" fill-opacity="0.97"/>
<circle cx="487.9" cy="126.96" r="2.25" fill-opacity="1.00"/>
</g>
<line x1="59.4" y1="388.44" x2="487.9" y2="126.96" stroke="#eaa22b" stroke-width="1.5"/>
<line x1="58.1" y1="376.0" x2="287.7" y2="259.8" stroke="#548fc5" stroke-width="1.3"/>
<line x1="59.4" y1="388.44" x2="487.9" y2="126.96" stroke="#1c1c1c" stroke-width="1.85" stroke-dasharray="5.85 2.377"/>
</g>
<rect x="37.3" y="107.5" width="472.2" height="282.1" fill="none" stroke="#cccccc" stroke-width="1.1"/>
<text x="57.2" y="405" font-size="10" text-anchor="middle">0.0</text>
<text x="127.2" y="405" font-size="10" text-anchor="middle">0.5</text>
<text x="197.2" y="405" font-size="10" text-anchor="middle">1.0</text>
<text x="267.2" y="405" font-size="10" text-anchor="middle">1.5</text>
<text x="337.2" y="405" font-size="10" text-anchor="middle">2.0</text>
<text x="407.2" y="405" font-size="10" text-anchor="middle">2.5</text>
<text x="477.2" y="405" font-size="10" text-anchor="middle">3.0</text>
<text x="29.4" y="394" font-size="10" text-anchor="end">0.0</text>
<text x="29.4" y="351.28" font-size="10" text-anchor="end">0.5</text>
<text x="29.4" y="308.57" font-size="10" text-anchor="end">1.0</text>
<text x="29.4" y="265.86" font-size="10" text-anchor="end">1.5</text>
<text x="29.4" y="223.14" font-size="10" text-anchor="end">2.0</text>
<text x="29.4" y="180.43" font-size="10" text-anchor="end">2.5</text>
<text x="29.4" y="137.71" font-size="10" text-anchor="end">3.0</text>
<text x="273.4" y="417.7" font-size="11" text-anchor="middle">True</text>
<text x="11.1" y="250.2" font-size="11" text-anchor="middle" transform="rotate(-90 11.1 250.2)">Predicted</text>
<rect x="42.2" y="113.4" width="137.1" height="75.6" rx="2" ry="2" fill="#fff" fill-opacity="0.8" stroke="#cccccc" stroke-opacity="0.8" stroke-width="0.9"/>
<circle cx="56.9" cy="122.2" r="2.25" fill="#5391c7" fill-opacity="0.5" stroke="none"/>
<circle cx="56.9" cy="136.5" r="2.25" fill="#eaa22b" fill-opacity="0.68" stroke="none"/>
<line x1="45.9" y1="150.3" x2="67.3" y2="150.3" stroke="#eaa22b" stroke-width="1.5"/>
<line x1="45.9" y1="164.8" x2="67.3" y2="164.8" stroke="#548fc5" stroke-width="1.3"/>
<line x1="45.9" y1="180.0" x2="67.3" y2="180.0" stroke="#1c1c1c" stroke-width="1.85" stroke-dasharray="5.85 2.377"/>
<text x="76" y="124.9" font-size="10.15" text-anchor="start">Test</text>
<text x="76" y="139.35" font-size="10.15" text-anchor="start">Train</text>
<text x="76" y="153.8" font-size="10.15" text-anchor="start">Train Regression Line</text>
<text x="76" y="168.25" font-size="10.15" text-anchor="start">Test Regression Line</text>
<text x="76" y="182.7" font-size="10.15" text-anchor="start">x=y</text>
<rect x="555.6" y="107.5" width="126.8" height="282.1" fill="#fff" stroke="none"/>
<path d="M560.9 107.5V389.6M598.5 107.5V389.6M636.1 107.5V389.6M673.7 107.5V389.6M555.6 354.37H682.4M555.6 319.14H682.4M555.6 283.91H682.4M555.6 248.68H682.4M555.6 213.45H682.4M555.6 178.22H682.4M555.6 142.99H682.4" stroke="#dadada" stroke-width="1.25" fill="none"/>
<rect x="561.41" y="361.42" width="5.23" height="28.18" fill="#eaa22b" fill-opacity="0.57" stroke="#fff" stroke-opacity="0.75" stroke-width="0.6"/>
<rect x="566.64" y="343.8" width="5.23" height="45.8" fill="#eaa22b" fill-opacity="0.57" stroke="#fff" stroke-opacity="0.75" stroke-width="0.6"/>
<rect x="571.87" y="153.56" width="5.23" height="236.04" fill="#eaa22b" fill-opacity="0.57" stroke="#fff" stroke-opacity="0.75" stroke-width="0.6"/>
<rect x="577.09" y="231.07" width="5.23" height="158.53" fill="#eaa22b" fill-opacity="0.57" stroke="#fff" stroke-opacity="0.75" stroke-width="0.6"/>
<rect x="582.32" y="185.27" width="5.23" height="204.33" fill="#eaa22b" fill-opacity="0.57" stroke="#fff" stroke-opacity="0.75" stroke-width="0.6"/>
<rect x="587.55" y="153.56" width="5.23" height="236.04" fill="#eaa22b" fill-opacity="0.57" stroke="#fff" stroke-opacity="0.75" stroke-width="0.6"/>
<rect x="592.78" y="128.9" width="5.23" height="260.7" fill="#eaa22b" fill-opacity="0.57" stroke="#fff" stroke-opacity="0.75" stroke-width="0.6"/>
<rect x="598" y="174.7" width="5.23" height="214.9" fill="#eaa22b" fill-opacity="0.57" stroke="#fff" stroke-opacity="0.75" stroke-width="0.6"/>
<rect x="603.23" y="195.84" width="5.23" height="193.77" fill="#eaa22b" fill-opacity="0.57" stroke="#fff" stroke-opacity="0.75" stroke-width="0.6"/>
<rect x="608.46" y="305.05" width="5.23" height="84.55" fill="#eaa22b" fill-opacity="0.57" stroke="#fff" stroke-opacity="0.75" stroke-width="0.6"/>
<rect x="613.69" y="354.37" width="5.23" height="35.23" fill="#eaa22b" fill-opacity="0.57" stroke="#fff" stroke-opacity="0.75" stroke-width="0.6"/>
<rect x="618.91" y="329.71" width="5.23" height="59.89" fill="#eaa22b" fill-opacity="0.57" stroke="#fff" stroke-opacity="0.75" stroke-width="0.6"/>
<rect x="624.14" y="379.03" width="5.23" height="10.57" fill="#eaa22b" fill-opacity="0.57" stroke="#fff" stroke-opacity="0.75" stroke-width="0.6"/>
<rect x="671.19" y="368.46" width="5.23" height="21.14" fill="#eaa22b" fill-opacity="0.57" stroke="#fff" stroke-opacity="0.75" stroke-width="0.6"/>
<rect x="571.3" y="315.62" width="6.45" height="73.98" fill="#5391c7" fill-opacity="0.57" stroke="#fff" stroke-opacity="0.75" stroke-width="0.6"/>
<rect x="577.75" y="336.75" width="6.45" height="52.84" fill="#5391c7" fill-opacity="0.57" stroke="#fff" stroke-opacity="0.75" stroke-width="0.6"/>
<rect x="584.2" y="315.62" width="6.45" height="73.98" fill="#5391c7" fill-opacity="0.57" stroke="#fff" stroke-opacity="0.75" stroke-width="0.6"/>
<rect x="590.65" y="305.05" width="6.45" height="84.55" fill="#5391c7" fill-opacity="0.57" stroke="#fff" stroke-opacity="0.75" stroke-width="0.6"/>
<rect x="597.1" y="315.62" width="6.45" height="73.98" fill="#5391c7" fill-opacity="0.57" stroke="#fff" stroke-opacity="0.75" stroke-width="0.6"/>
<rect x="603.55" y="329.71" width="6.45" height="59.89" fill="#5391c7" fill-opacity="0.57" stroke="#fff" stroke-opacity="0.75" stroke-width="0.6"/>
<rect x="610" y="375.51" width="6.45" height="14.09" fill="#5391c7" fill-opacity="0.57" stroke="#fff" stroke-opacity="0.75" stroke-width="0.6"/>
<rect x="616.45" y="371.99" width="6.45" height="17.62" fill="#5391c7" fill-opacity="0.57" stroke="#fff" stroke-opacity="0.75" stroke-width="0.6"/>
<rect x="555.6" y="107.5" width="126.8" height="282.1" fill="none" stroke="#cccccc" stroke-width="1.1"/>
<text x="560.9" y="404.8" font-size="10" text-anchor="middle">0</text>
<text x="598.5" y="404.8" font-size="10" text-anchor="middle">1</text>
<text x="636.1" y="404.8" font-size="10" text-anchor="middle">2</text>
<text x="673.7" y="404.8" font-size="10" text-anchor="middle">3</text>
<text x="548.6" y="394.1" font-size="10" text-anchor="end">0</text>
<text x="548.6" y="358.87" font-size="10" text-anchor="end">10</text>
<text x="548.6" y="323.64" font-size="10" text-anchor="end">20</text>
<text x="548.6" y="288.41" font-size="10" text-anchor="end">30</text>
<text x="548.6" y="253.18" font-size="10" text-anchor="end">40</text>
<text x="548.6" y="217.95" font-size="10" text-anchor="end">50</text>
<text x="548.6" y="182.72" font-size="10" text-anchor="end">60</text>
<text x="548.6" y="147.49" font-size="10" text-anchor="end">70</text>
<text x="548.6" y="112.26" font-size="10" text-anchor="end">80</text>
<text x="619" y="417.9" font-size="11" text-anchor="middle">Frequency</text>
<text x="532" y="249.6" font-size="11" text-anchor="middle" transform="rotate(-90 532 249.6)">Count</text>
<rect x="617.4" y="113.4" width="59.7" height="31.9" rx="2" ry="2" fill="#fff" fill-opacity="0.8" stroke="#cccccc" stroke-opacity="0.8" stroke-width="0.9"/>
<rect x="621.2" y="117.7" width="20" height="6.6" fill="#eaa22b" fill-opacity="0.57" stroke="#fff" stroke-width="0.5"/>
<text x="650.9" y="124.6" font-size="10" text-anchor="start">Train</text>
<rect x="621.2" y="132.45" width="20" height="6.6" fill="#5391c7" fill-opacity="0.57" stroke="#fff" stroke-width="0.5"/>
<text x="650.9" y="139.35" font-size="10" text-anchor="start">Test</text>
</svg>
</body></html>
